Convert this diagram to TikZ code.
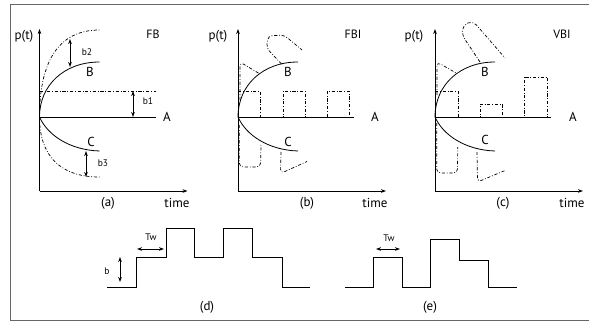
\documentclass[tikz,border=0pt]{standalone}
\usepackage{fontspec}
\setmainfont{PT Sans}
\usepackage{tkz-euclide}
\usetikzlibrary{arrows.meta}
\tikzset{>={Stealth[length=5pt,width=3.6pt]}}
\tikzset{
  dd/.style={line width=0.7pt, dash pattern=on 3.2pt off 1.8pt on 0.8pt off 1.8pt},
  lab/.style={font=\fontsize{13}{15}\selectfont, inner sep=0pt},
  ttl/.style={font=\fontsize{12}{14}\selectfont, inner sep=0pt},
  small/.style={font=\fontsize{9.5}{11}\selectfont, inner sep=0pt},
  wave/.style={line width=0.9pt}
}

\begin{document}
\begin{tikzpicture}[x=1pt,y=-1pt,line width=0.8pt]
\useasboundingbox (0,0) rectangle (589,322);
\draw[black!60,line width=0.9pt] (600,4) -- (10,4) -- (10,320) -- (600,320);
% three panels share axes and the curves A, B, C
\foreach \ox in {39.5,238,435}{
\begin{scope}[xshift=\ox]
\draw[->] (0,191) -- (0,29);
\draw[->] (0,191) -- (148,191);
\draw (0,117) -- (116,117);
\draw (0,117) .. controls (0,85) and (25,62) .. (60,62);
\draw (0,117) .. controls (8,135) and (30,150) .. (60,151);
\end{scope}
}
% (a) FB
\draw[dd] (39.5,117) .. controls (39.5,60) and (59.5,30) .. (99.5,30);
\draw[dd] (39.5,117) .. controls (39.5,155) and (59.5,177) .. (99.5,177);
\draw[dd] (39.5,91) -- (156,91);
\tkzDefPoints{70/39/ba, 70/67/bb, 133/91/bc, 133/117/bd, 86/151/be, 86/177/bf}
\tkzDrawSegments[<->,line width=0.8pt](ba,bb bc,bd be,bf)
% (b) FBI
\begin{scope}[xshift=238]
\draw[dd] (0,91) -- (22,91) -- (22,117) -- (45,117) -- (45,91) -- (67,91)
  -- (67,117) -- (89,117) -- (89,91) -- (111,91) -- (111,117);
\draw[dd,rounded corners=4] (2,100) -- (2,62) -- (22,74);
\draw[dd,rounded corners=4] (43.5,64) -- (28.5,48) -- (30,36) -- (46,35) -- (64,50);
\draw[dd,rounded corners=4] (1.3,125) -- (1.3,167) -- (22.5,167) -- (23,145);
\draw[dd,rounded corners=4] (43,152) -- (42.5,173.5) -- (69,161.5);
\end{scope}
% (c) VBI
\begin{scope}[xshift=435]
\draw[dd] (0,91) -- (23,91) -- (23,117) -- (45,117) -- (45,104) -- (67,104)
  -- (67,117) -- (89,117) -- (89,77) -- (112,77) -- (112,117);
\draw[dd,rounded corners=4] (2,95) -- (2,62) -- (22,73.5);
\draw[dd,rounded corners=5] (45,62) -- (27,35) -- (28,25) -- (38,21) -- (70,58);
\draw[dd,rounded corners=4] (1.7,123) -- (1.7,173) -- (22.5,173) -- (22.7,147);
\draw[dd,rounded corners=4] (42,152) -- (42.5,182) -- (70,170.5);
\end{scope}
% (d) and (e)
\draw[wave] (107,287) -- (136,287) -- (136,257) -- (166,257) -- (166,228) -- (194,228)
  -- (194,257) -- (223,257) -- (223,228) -- (252,228) -- (252,257) -- (282,257)
  -- (282,287) -- (310,287);
\draw[wave] (345,287) -- (373,287) -- (373,257) -- (402,257) -- (402,287) -- (430,287)
  -- (430,239) -- (459,239) -- (459,260) -- (488,260) -- (488,287) -- (517,287);
\tkzDefPoints{120/257/bg, 120/282/bh, 137/249/tw1, 164/249/tw2, 376/249/tw3, 400/249/tw4}
\tkzDrawSegments[<->,line width=0.8pt](bg,bh tw1,tw2 tw3,tw4)
% labels
\node[lab] (pa) at (24,36) {p(t)};
\node[lab] (pb) at (218,36) {p(t)};
\node[lab] (pc) at (414,36) {p(t)};
\node[ttl] (fb) at (153,34) {FB};
\node[ttl] (fbi) at (353,34) {FBI};
\node[ttl] (vbi) at (562,34) {VBI};
\node[lab] (Ba) at (90,72) {B};
\node[lab] (Bb) at (288,72) {B};
\node[lab] (Bc) at (485,72) {B};
\node[lab] (Ca) at (91,142) {C};
\node[lab] (Cb) at (288,142) {C};
\node[lab] (Cc) at (485,140) {C};
\node[lab] (Aa) at (167,117) {A};
\node[lab] (Ab) at (375,117) {A};
\node[lab] (Ac) at (573,117) {A};
\node[small] (lb2) at (87,52) {b2};
\node[small] (lb1) at (148,101) {b1};
\node[small] (lb3) at (103,163) {b3};
\node[lab] (la) at (108,203) {(a)};
\node[lab] (ta) at (177,203) {time};
\node[lab] (lb) at (307,203) {(b)};
\node[lab] (tb) at (375,203) {time};
\node[lab] (lc) at (503,203) {(c)};
\node[lab] (tc) at (572,203) {time};
\node[small] (twd) at (151,237) {Tw};
\node[small] (twe) at (389,238) {Tw};
\node[small] (lbb) at (107,271) {b};
\node[lab] (ld) at (207,307) {(d)};
\node[lab] (le) at (430,307) {(e)};
\end{tikzpicture}
\end{document}
